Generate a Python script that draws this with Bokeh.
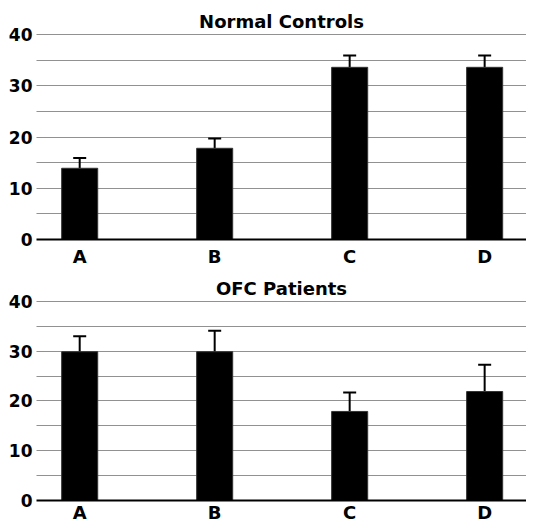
from bokeh.plotting import figure
from bokeh.layouts import column, row
from bokeh.models import ColumnDataSource, Whisker, TeeHead, FixedTicker, Range1d, Spacer
from bokeh.embed import file_html
from bokeh.resources import INLINE

categories = ["A", "B", "C", "D"]
normal_mean = [13.9, 17.8, 33.6, 33.6]
normal_err = [2.0, 1.9, 2.3, 2.3]
ofc_mean = [29.9, 29.9, 17.9, 21.9]
ofc_err = [3.1, 4.2, 3.8, 5.4]
titles = ["Normal Controls", "OFC Patients"]
y_ticks = [0, 10, 20, 30, 40]
y_minor = [5, 15, 25, 35]

FONT = "DejaVu Sans"


def make_panel(title, means, errs, frame_h, x_standoff):
    xs = list(range(len(categories)))
    src = ColumnDataSource(dict(
        x=xs, mean=means,
        upper=[m + e for m, e in zip(means, errs)],
    ))
    p = figure(frame_width=490, frame_height=frame_h, output_backend="svg",
               toolbar_location=None, title=title,
               x_range=Range1d(-0.32, 3.31), y_range=Range1d(0, 40.2),
               min_border_left=0, min_border_right=0,
               min_border_top=0, min_border_bottom=0)
    p.outline_line_color = None
    p.background_fill_color = "white"
    p.title.align = "center"
    p.title.text_font = FONT
    p.title.text_font_style = "bold"
    p.title.text_font_size = "18px"
    p.title.text_color = "black"
    p.title.standoff = 4
    p.title.offset = 0

    p.vbar(x="x", top="mean", width=0.267, source=src,
           fill_color="black", line_color="#333333", line_width=1)
    w = Whisker(base="x", lower="mean", upper="upper", source=src,
                line_color="black", line_width=2,
                upper_head=TeeHead(size=13, line_color="black", line_width=2),
                lower_head=None)
    p.add_layout(w)

    # y axis
    yax = p.yaxis[0]
    yax.ticker = FixedTicker(ticks=y_ticks, minor_ticks=y_minor)
    yax.axis_line_color = None
    yax.major_tick_line_color = None
    yax.minor_tick_line_color = None
    yax.major_tick_out = 0
    yax.minor_tick_out = 0
    yax.major_tick_in = 0
    yax.minor_tick_in = 0
    yax.axis_label_standoff = 0
    yax.major_label_text_font = FONT
    yax.major_label_text_font_style = "bold"
    yax.major_label_text_font_size = "17px"
    yax.major_label_text_color = "black"
    yax.major_label_standoff = 4

    # x axis
    xax = p.xaxis[0]
    xax.ticker = FixedTicker(ticks=xs)
    xax.major_label_overrides = {i: c for i, c in enumerate(categories)}
    xax.axis_line_color = "black"
    xax.axis_line_width = 2
    xax.major_tick_line_color = None
    xax.minor_tick_line_color = None
    xax.major_tick_out = 0
    xax.minor_tick_out = 0
    xax.major_tick_in = 0
    xax.minor_tick_in = 0
    xax.axis_label_standoff = 0
    xax.major_label_text_font = FONT
    xax.major_label_text_font_style = "bold"
    xax.major_label_text_font_size = "18px"
    xax.major_label_text_color = "black"
    xax.major_label_standoff = x_standoff

    p.xgrid.grid_line_color = None
    p.ygrid.grid_line_color = "#222222"
    p.ygrid.grid_line_dash = "1 1"
    p.ygrid.grid_line_width = 1
    p.ygrid.minor_grid_line_color = "#222222"
    p.ygrid.minor_grid_line_dash = "1 1"
    p.ygrid.minor_grid_line_width = 1
    p.ygrid.level = "underlay"
    return p


p1 = make_panel(titles[0], normal_mean, normal_err, 206, 6)
p2 = make_panel(titles[1], ofc_mean, ofc_err, 200, 1)
charts = column(Spacer(height=6), p1, Spacer(height=4), p2, spacing=0)
layout = row(Spacer(width=5), charts, spacing=0)

with open("out.html", "w") as f:
    f.write(file_html(layout, INLINE))
